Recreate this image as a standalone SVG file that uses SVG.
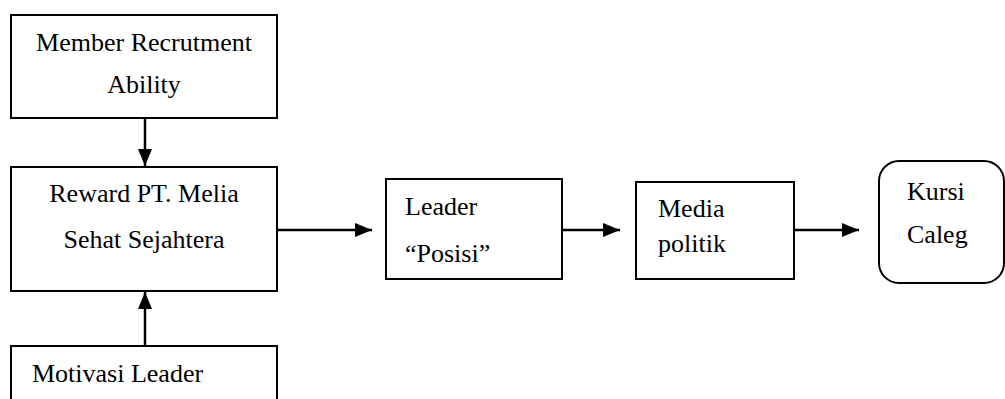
<svg xmlns="http://www.w3.org/2000/svg" width="1005" height="399" viewBox="0 0 1005 399">
<style>
.box{fill:#fff;stroke:#000;stroke-width:2}
text{font-family:'Liberation Serif','Times New Roman',Times,serif;font-size:26px;fill:#000}
.c{text-anchor:middle}
.ln{stroke:#000;stroke-width:2.5;fill:none}
</style>
<defs>
<marker id="ah2" viewBox="0 0 17 14" refX="17" refY="7" markerWidth="17" markerHeight="14" orient="auto" markerUnits="userSpaceOnUse">
<path d="M0,0 L17,7 L0,14 Z" fill="#000"/>
</marker>
</defs>
<rect width="1005" height="399" fill="#fff"/>
<g id="connectors">
<line class="ln" x1="145" y1="118" x2="145" y2="166" marker-end="url(#ah2)"/>
<line class="ln" x1="145" y1="346" x2="145" y2="292" marker-end="url(#ah2)"/>
<line class="ln" x1="277" y1="230" x2="372" y2="230" marker-end="url(#ah2)"/>
<line class="ln" x1="562" y1="230" x2="620" y2="230" marker-end="url(#ah2)"/>
<line class="ln" x1="794" y1="230" x2="859" y2="230" marker-end="url(#ah2)"/>
</g>
<g font-family="Liberation Serif, serif" font-size="26">
<g id="member">
<rect class="box" x="11" y="15" width="266" height="103"/>
<text class="c" x="144" y="51">Member Recrutment</text>
<text class="c" x="144" y="93">Ability</text>
</g>
<g id="reward">
<rect class="box" x="11" y="167" width="266" height="124"/>
<text class="c" x="144" y="202">Reward PT. Melia</text>
<text class="c" x="144" y="248">Sehat Sejahtera</text>
</g>
<g id="motivasi">
<rect class="box" x="11" y="346" width="266" height="60"/>
<text x="32" y="382">Motivasi Leader</text>
</g>
<g id="leader">
<rect class="box" x="386" y="179" width="176" height="100"/>
<text x="405" y="215">Leader</text>
<text x="405" y="262">“Posisi”</text>
</g>
<g id="media">
<rect class="box" x="636" y="182" width="158" height="97"/>
<text x="658" y="217">Media</text>
<text x="658" y="252">politik</text>
</g>
<g id="kursi">
<rect class="box" x="879" y="161" width="125" height="122" rx="20" ry="20"/>
<text x="907" y="200">Kursi</text>
<text x="907" y="243">Caleg</text>
</g>
</g>
</svg>
